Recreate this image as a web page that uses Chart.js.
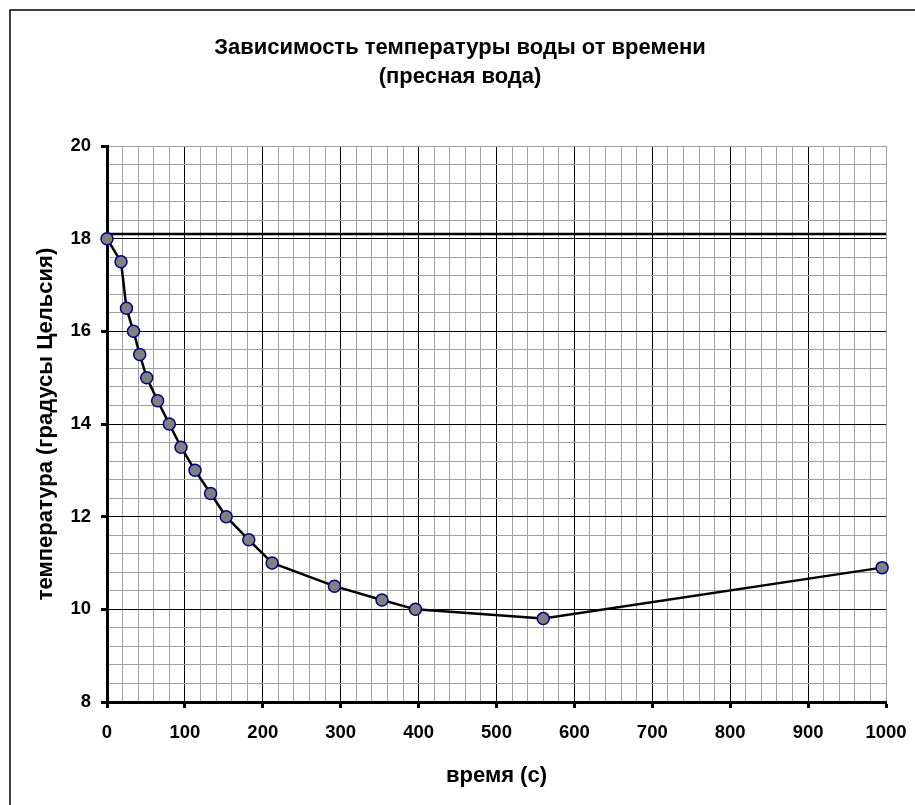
<!DOCTYPE html>
<html>
<head>
<meta charset="utf-8">
<script src="https://cdn.jsdelivr.net/npm/chart.js@4.4.0/dist/chart.umd.min.js"></script>
<style>
  html, body { margin: 0; padding: 0; background: #fff; }
  #wrap { position: relative; width: 915px; height: 805px; }
</style>
</head>
<body>
<div id="wrap"><canvas id="tempChart"></canvas></div>
<script>
// измерения: время (с) и температура (°C)
const timeSec = [0, 18, 25, 34, 42, 51, 65, 80, 95, 113, 133, 153, 182, 212, 292, 353, 396, 560, 995];
const tempC = [18, 17.5, 16.5, 16, 15.5, 15, 14.5, 14, 13.5, 13, 12.5, 12, 11.5, 11, 10.5, 10.2, 10, 9.8, 10.9];

// горизонтальная линия
const refX = [0, 1000];
const refY = [18.1, 18.1];

// оси
const xMin = 0, xMax = 1000, xMinor = 20, xMajor = 100;
const yMin = 8, yMax = 20, yMinor = 0.4, yMajor = 2;

const FONT = "'Liberation Sans', Arial, sans-serif";

function isMajor(v, step) {
    const r = v / step;
    return Math.abs(r - Math.round(r)) < 1e-6;
}

// рамка диаграммы
const frame = {
    id: 'frame',
    beforeDraw(chart) {
        const c = chart.ctx;
        c.save();
        c.fillStyle = '#fff';
        c.fillRect(0, 0, chart.width, chart.height);
        c.strokeStyle = '#000';
        c.lineWidth = 1.5;
        c.strokeRect(10, 10, 1000, 1000);
        c.restore();
    }
};

const ctx = document.getElementById('tempChart').getContext('2d');
new Chart(ctx, {
    type: 'scatter',
    data: {
        datasets: [
            {
                label: 'ref',
                data: refX.map((x, i) => ({ x: x, y: refY[i] })),
                showLine: true,
                borderColor: '#000',
                borderWidth: 2.5,
                pointRadius: 0,
                clip: false,
                order: 2
            },
            {
                label: 'пресная вода',
                data: timeSec.map((x, i) => ({ x: x, y: tempC[i] })),
                showLine: true,
                tension: 0,
                borderColor: '#000',
                borderWidth: 2.5,
                pointRadius: 6,
                pointBackgroundColor: '#808080',
                pointBorderColor: '#000080',
                pointBorderWidth: 1.5,
                clip: false,
                order: 1
            }
        ]
    },
    options: {
        responsive: true,
        maintainAspectRatio: false,
        animation: false,
        layout: { padding: { left: 5, right: 0, top: 0, bottom: 0 } },
        plugins: {
            legend: { display: false },
            tooltip: { enabled: false },
            title: {
                display: true,
                text: ['Зависимость температуры воды от времени', '(пресная вода)'],
                color: '#000',
                font: { family: FONT, size: 22, weight: 'bold', lineHeight: 1.3 },
                padding: { top: 34, bottom: 54.8 }
            }
        },
        scales: {
            x: {
                type: 'linear',
                min: xMin,
                max: xMax,
                afterFit(scale) {
                    scale.height = 103;
                    scale.paddingLeft = 0;
                    scale.paddingRight = 29;
                },
                ticks: {
                    stepSize: xMinor,
                    autoSkip: false,
                    maxRotation: 0,
                    padding: 14,
                    color: '#000',
                    font: { family: FONT, size: 18.5, weight: 'bold' },
                    callback: v => isMajor(v, xMajor) ? String(Math.round(v)) : ''
                },
                grid: {
                    color: c => c.tick && isMajor(c.tick.value, xMajor) && c.tick.value !== xMax ? '#000' : '#a0a0a0',
                    lineWidth: 1,
                    tickLength: 6,
                    tickWidth: 3,
                    tickColor: c => c.tick && isMajor(c.tick.value, xMajor) ? '#000' : 'rgba(0,0,0,0)'
                },
                border: { display: true, color: '#000', width: 3 },
                title: {
                    display: true,
                    text: 'время (с)',
                    color: '#000',
                    font: { family: FONT, size: 22, weight: 'bold', lineHeight: 1.2 },
                    padding: { top: 0, bottom: 16 }
                }
            },
            y: {
                type: 'linear',
                min: yMin,
                max: yMax,
                afterFit(scale) {
                    scale.width = 102;
                },
                ticks: {
                    stepSize: yMinor,
                    autoSkip: false,
                    padding: 10,
                    color: '#000',
                    font: { family: FONT, size: 18.5, weight: 'bold' },
                    callback: v => isMajor(v, yMajor) ? String(Math.round(v)) : ''
                },
                grid: {
                    color: c => c.tick && isMajor(c.tick.value, yMajor) && Math.abs(c.tick.value - yMax) > 1e-6 ? '#000' : '#a0a0a0',
                    lineWidth: 1,
                    tickLength: 6,
                    tickWidth: 3,
                    tickColor: c => c.tick && isMajor(c.tick.value, yMajor) ? '#000' : 'rgba(0,0,0,0)'
                },
                border: { display: true, color: '#000', width: 3 },
                title: {
                    display: true,
                    text: 'температура (градусы Цельсия)',
                    color: '#000',
                    font: { family: FONT, size: 22, weight: 'bold', lineHeight: 1.2 },
                    padding: { top: 28, bottom: 0 }
                }
            }
        }
    },
    plugins: [frame]
});
</script>
</body>
</html>
